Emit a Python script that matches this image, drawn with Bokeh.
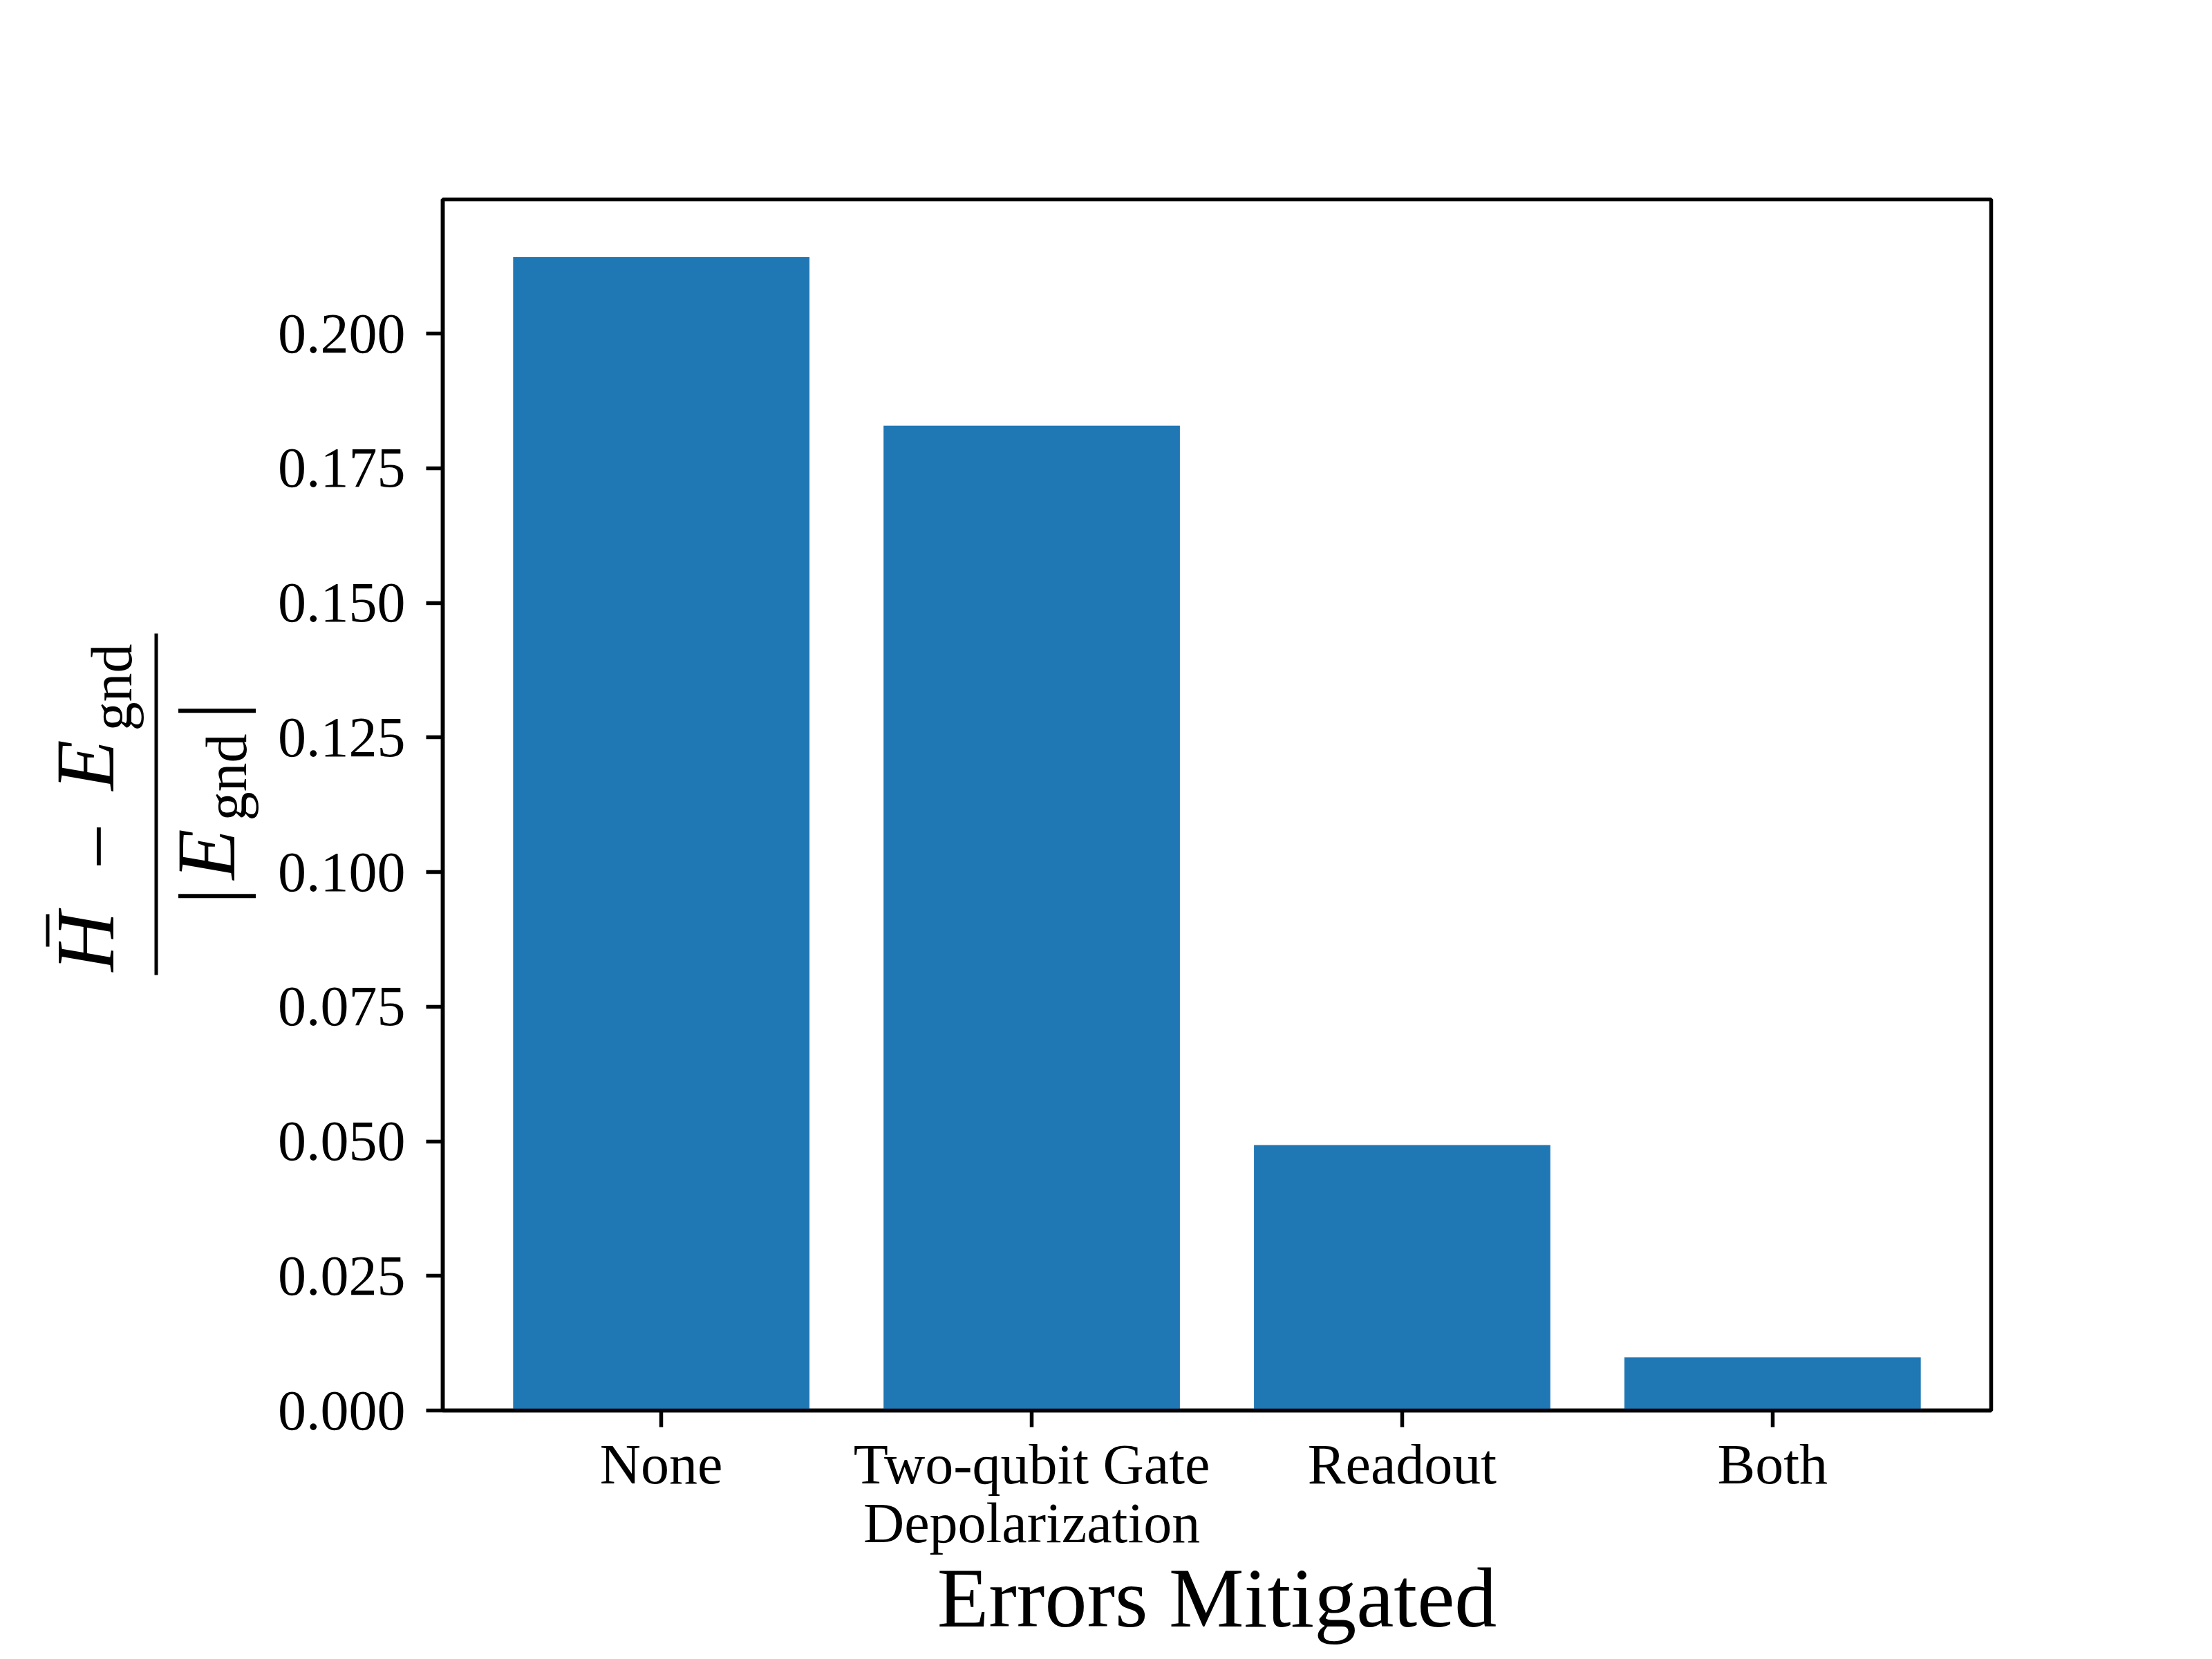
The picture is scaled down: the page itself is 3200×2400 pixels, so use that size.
import math
from bokeh.plotting import figure
from bokeh.layouts import row
from bokeh.models import FactorRange, Range1d, FixedTicker, NumeralTickFormatter
from bokeh.core.properties import value
from bokeh.embed import file_html
from bokeh.resources import INLINE

# ---- data ----
categories = ["None", "Two-qubit Gate\nDepolarization", "Readout", "Both"]
rel_error = [0.2142, 0.1829, 0.0493, 0.0099]
y_ticks = [0.000, 0.025, 0.050, 0.075, 0.100, 0.125, 0.150, 0.175, 0.200]
x_title = "Errors Mitigated"
# y title pieces: (H̄ − E_gnd) / |E_gnd|
num_main = ["H", "\u2212", "E"]
num_sub = ["gnd"]
den_main = ["|", "E", "|"]
den_sub = ["gnd"]
bar_color = "#1f77b4"

FONT = "Liberation Serif"
W_LAB = 380
H = 2384
TOP, BOTTOM = 288, 344          # borders around the plotting area
FRAME_BOTTOM = H - BOTTOM        # 2040

# ---- left strip holding the composed y-axis title (units = pixels) ----
lab = figure(width=W_LAB, height=H, x_range=Range1d(0, W_LAB),
             y_range=Range1d(FRAME_BOTTOM, TOP), output_backend="svg",
             toolbar_location=None, x_axis_location=None,
             y_axis_location=None, title=None,
             min_border_left=0, min_border_right=0,
             min_border_top=TOP, min_border_bottom=BOTTOM)
lab.grid.visible = False
lab.outline_line_color = None
lab.background_fill_color = "white"
lab.border_fill_color = "white"

ang = math.pi / 2
def t(x, y, s, size, style="normal", align="left"):
    lab.text(x=[x], y=[y], text=[s], angle=ang,
             text_font=value(FONT), text_font_size=size,
             text_font_style=style, text_align=align,
             text_baseline="alphabetic", text_color="black")

# numerator
t(123, 1405, num_main[0], "120px", "italic")
t(142, 1224, num_main[1], "118px", align="center")
t(123, 1143, num_main[2], "120px", "italic")
t(161, 1057, num_sub[0], "84px")
# bar over H and the fraction bar
lab.quad(left=[66, 223], right=[71, 228], top=[1322, 916], bottom=[1369, 1410],
         fill_color="black", line_color=None)
# denominator
t(302, 1308, den_main[0], "122px")
t(298, 1272, den_main[1], "120px", "italic")
t(327, 1187, den_sub[0], "84px")
t(302, 1040, den_main[2], "122px")

# ---- main bar chart ----
p = figure(width=3184 - W_LAB, height=H,
           x_range=FactorRange(*categories, range_padding=0.045),
           y_range=Range1d(0, max(rel_error) * 1.05),
           output_backend="svg", toolbar_location=None, title=None,
           min_border_left=640 - W_LAB, min_border_right=304,
           min_border_top=TOP, min_border_bottom=BOTTOM)

p.vbar(x=categories, top=rel_error, width=0.8, fill_color=bar_color,
       line_color=None)

p.xgrid.visible = False
p.ygrid.visible = False
p.background_fill_color = "white"
p.border_fill_color = "white"
p.outline_line_color = "black"
p.outline_line_width = 5.5
p.outline_line_alpha = 1.0

for ax in (p.xaxis[0], p.yaxis[0]):
    ax.axis_line_color = "black"
    ax.axis_line_width = 5.5
    ax.major_tick_line_color = "black"
    ax.major_tick_line_width = 5.5
    ax.major_tick_out = 24
    ax.major_tick_in = 0
    ax.minor_tick_line_color = None
    ax.major_label_text_font = FONT
    ax.major_label_text_font_size = "82px"
    ax.major_label_text_color = "black"

p.yaxis[0].ticker = FixedTicker(ticks=y_ticks)
p.yaxis[0].formatter = NumeralTickFormatter(format="0.000")
p.yaxis[0].major_label_standoff = 30
p.xaxis[0].major_label_standoff = 8
p.xaxis[0].major_label_text_line_height = 0.945
p.xaxis[0].axis_label = x_title
p.xaxis[0].axis_label_text_font = FONT
p.xaxis[0].axis_label_text_font_size = "122px"
p.xaxis[0].axis_label_text_font_style = "normal"
p.xaxis[0].axis_label_text_color = "black"
p.xaxis[0].axis_label_standoff = -8

layout = row(lab, p, spacing=0)
open("out.html", "w").write(file_html(layout, INLINE))
